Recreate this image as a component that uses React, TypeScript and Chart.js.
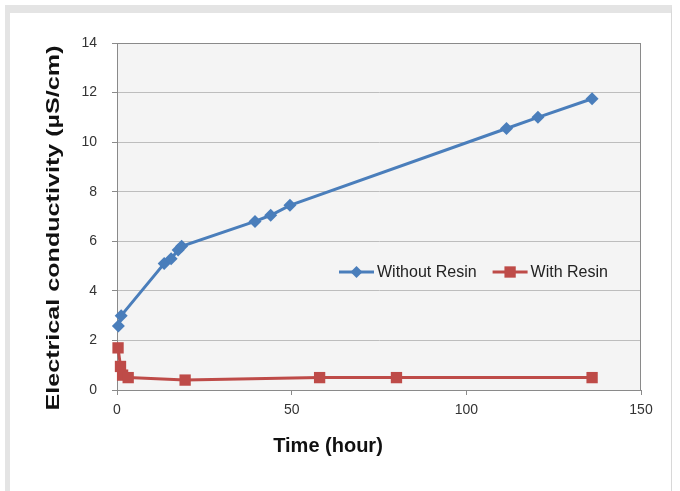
import { useEffect, useRef } from "react";
import { Chart, registerables } from "chart.js";

Chart.register(...registerables);

const seriesNames = ["Without Resin", "With Resin"];
const withoutResinTime = [0.4, 1.2, 13.5, 15.5, 17.5, 18.5, 39.5, 44, 49.5, 111.5, 120.5, 136];
const withoutResinEC = [2.58, 3.0, 5.1, 5.3, 5.65, 5.8, 6.8, 7.05, 7.45, 10.55, 11.0, 11.75];
const withResinTime = [0.3, 1, 1.6, 3.2, 19.5, 58, 80, 136];
const withResinEC = [1.7, 0.95, 0.6, 0.5, 0.4, 0.5, 0.5, 0.5];
const xTicks = [0, 50, 100, 150];
const yTicks = [0, 2, 4, 6, 8, 10, 12, 14];
const xTitle = "Time (hour)";
const yTitle = "Electrical conductivity (µS/cm)";

const BLUE = "#4a7ebb";
const RED = "#be4b48";
const FONT = "'Liberation Sans', Arial, sans-serif";

export default function App() {
  const ref = useRef<HTMLCanvasElement | null>(null);

  useEffect(() => {
    if (!ref.current) return;

    const plotFrame = {
      id: "plotFrame",
      beforeDraw(chart: any) {
        const { ctx, chartArea: a } = chart;
        ctx.save();
        ctx.fillStyle = "#f4f4f4";
        ctx.fillRect(a.left, a.top, a.right - a.left, a.bottom - a.top);
        ctx.restore();
      },
      beforeDatasetsDraw(chart: any) {
        const { ctx, chartArea: a } = chart;
        ctx.save();
        ctx.strokeStyle = "#8a8a8a";
        ctx.lineWidth = 1;
        ctx.strokeRect(a.left + 0.5, a.top + 0.5, a.right - a.left - 1, a.bottom - a.top);
        ctx.restore();
      },
      afterDraw(chart: any) {
        const { ctx, chartArea: a } = chart;
        // y-axis title (stretched along its length like the reference)
        ctx.save();
        ctx.font = `bold 19px ${FONT}`;
        ctx.fillStyle = "#111";
        ctx.textAlign = "center";
        ctx.textBaseline = "middle";
        const w = ctx.measureText(yTitle).width;
        ctx.translate(54, a.top + 185);
        ctx.rotate(-Math.PI / 2);
        ctx.scale(365 / w, 1);
        ctx.fillText(yTitle, 0, 0);
        ctx.restore();

        // x-axis title
        ctx.save();
        ctx.font = `bold 20px ${FONT}`;
        ctx.fillStyle = "#111";
        ctx.textAlign = "center";
        ctx.textBaseline = "middle";
        ctx.fillText(xTitle, a.left + 211, a.bottom + 56);
        ctx.restore();

        // legend inside plot area
        ctx.save();
        ctx.font = `16px ${FONT}`;
        ctx.textBaseline = "middle";
        const y = a.top + 229;
        let x = a.left + 222;
        const colors = [BLUE, RED];
        const styles = ["rectRot", "rect"];
        const radii = [6, 8];
        seriesNames.forEach((name, i) => {
          ctx.strokeStyle = colors[i];
          ctx.lineWidth = 3;
          ctx.beginPath();
          ctx.moveTo(x, y);
          ctx.lineTo(x + 35, y);
          ctx.stroke();
          ctx.fillStyle = colors[i];
          const cx = x + 17.5;
          if (styles[i] === "rect") {
            const s = radii[i] * Math.SQRT1_2;
            ctx.fillRect(cx - s, y - s, 2 * s, 2 * s);
          } else {
            const r = radii[i];
            ctx.beginPath();
            ctx.moveTo(cx, y - r);
            ctx.lineTo(cx + r, y);
            ctx.lineTo(cx, y + r);
            ctx.lineTo(cx - r, y);
            ctx.closePath();
            ctx.fill();
          }
          ctx.fillStyle = "#222";
          ctx.fillText(name, x + 38, y + 1);
          x += 38 + ctx.measureText(name).width + 16;
        });
        ctx.restore();
      },
    };

    const chart = new Chart(ref.current, {
      type: "scatter",
      data: {
        datasets: [
          {
            label: seriesNames[0],
            data: withoutResinTime.map((t, i) => ({ x: t, y: withoutResinEC[i] })),
            showLine: true,
            clip: false,
            borderColor: BLUE,
            backgroundColor: BLUE,
            borderWidth: 3,
            pointStyle: "rectRot",
            pointRadius: 6.5,
            pointBorderWidth: 0,
            pointBackgroundColor: BLUE,
          },
          {
            label: seriesNames[1],
            data: withResinTime.map((t, i) => ({ x: t, y: withResinEC[i] })),
            showLine: true,
            clip: false,
            borderColor: RED,
            backgroundColor: RED,
            borderWidth: 3,
            pointStyle: "rect",
            pointRadius: 8,
            pointBorderWidth: 0,
            pointBackgroundColor: RED,
          },
        ],
      },
      options: {
        animation: false,
        responsive: false,
        maintainAspectRatio: false,
        layout: { padding: { left: 0, right: 39, top: 43, bottom: 0 } },
        plugins: { legend: { display: false }, tooltip: { enabled: false } },
        scales: {
          x: {
            type: "linear",
            min: xTicks[0],
            max: xTicks[xTicks.length - 1],
            ticks: {
              stepSize: xTicks[1] - xTicks[0],
              color: "#333",
              font: { family: FONT, size: 14 },
              padding: 7,
              maxRotation: 0,
            },
            grid: {
              drawOnChartArea: false,
              drawTicks: true,
              tickLength: 5,
              tickColor: "#8a8a8a",
            },
            border: { display: true, color: "#8a8a8a" },
            afterFit(scale: any) {
              scale.height = 101;
            },
          },
          y: {
            type: "linear",
            min: yTicks[0],
            max: yTicks[yTicks.length - 1],
            ticks: {
              stepSize: yTicks[1] - yTicks[0],
              color: "#333",
              font: { family: FONT, size: 14 },
              padding: 15,
            },
            grid: {
              color: "#bdbdbd",
              borderDash: [3, 2],
              drawTicks: true,
              tickLength: 5,
              tickColor: "#8a8a8a",
              tickBorderDash: [],
            } as any,
            border: { display: true, color: "#8a8a8a" },
            afterFit(scale: any) {
              scale.width = 117;
            },
          },
        },
      },
      plugins: [plotFrame],
    } as any);

    return () => chart.destroy();
  }, []);

  return (
    <div style={{ position: "fixed", left: 0, top: 0, width: 680, height: 491, background: "#fff", overflow: "hidden" }}>
      <div
        style={{
          position: "absolute",
          left: 5,
          top: 5,
          width: 667,
          height: 490,
          boxSizing: "border-box",
          borderTop: "8px solid #e4e4e4",
          borderLeft: "5px solid #e4e4e4",
          borderRight: "1px solid #d8d8d8",
          background: "#fff",
        }}
      />
      <canvas ref={ref} width={680} height={491} style={{ position: "absolute", left: 0, top: 0, width: 680, height: 491 }} />
    </div>
  );
}
